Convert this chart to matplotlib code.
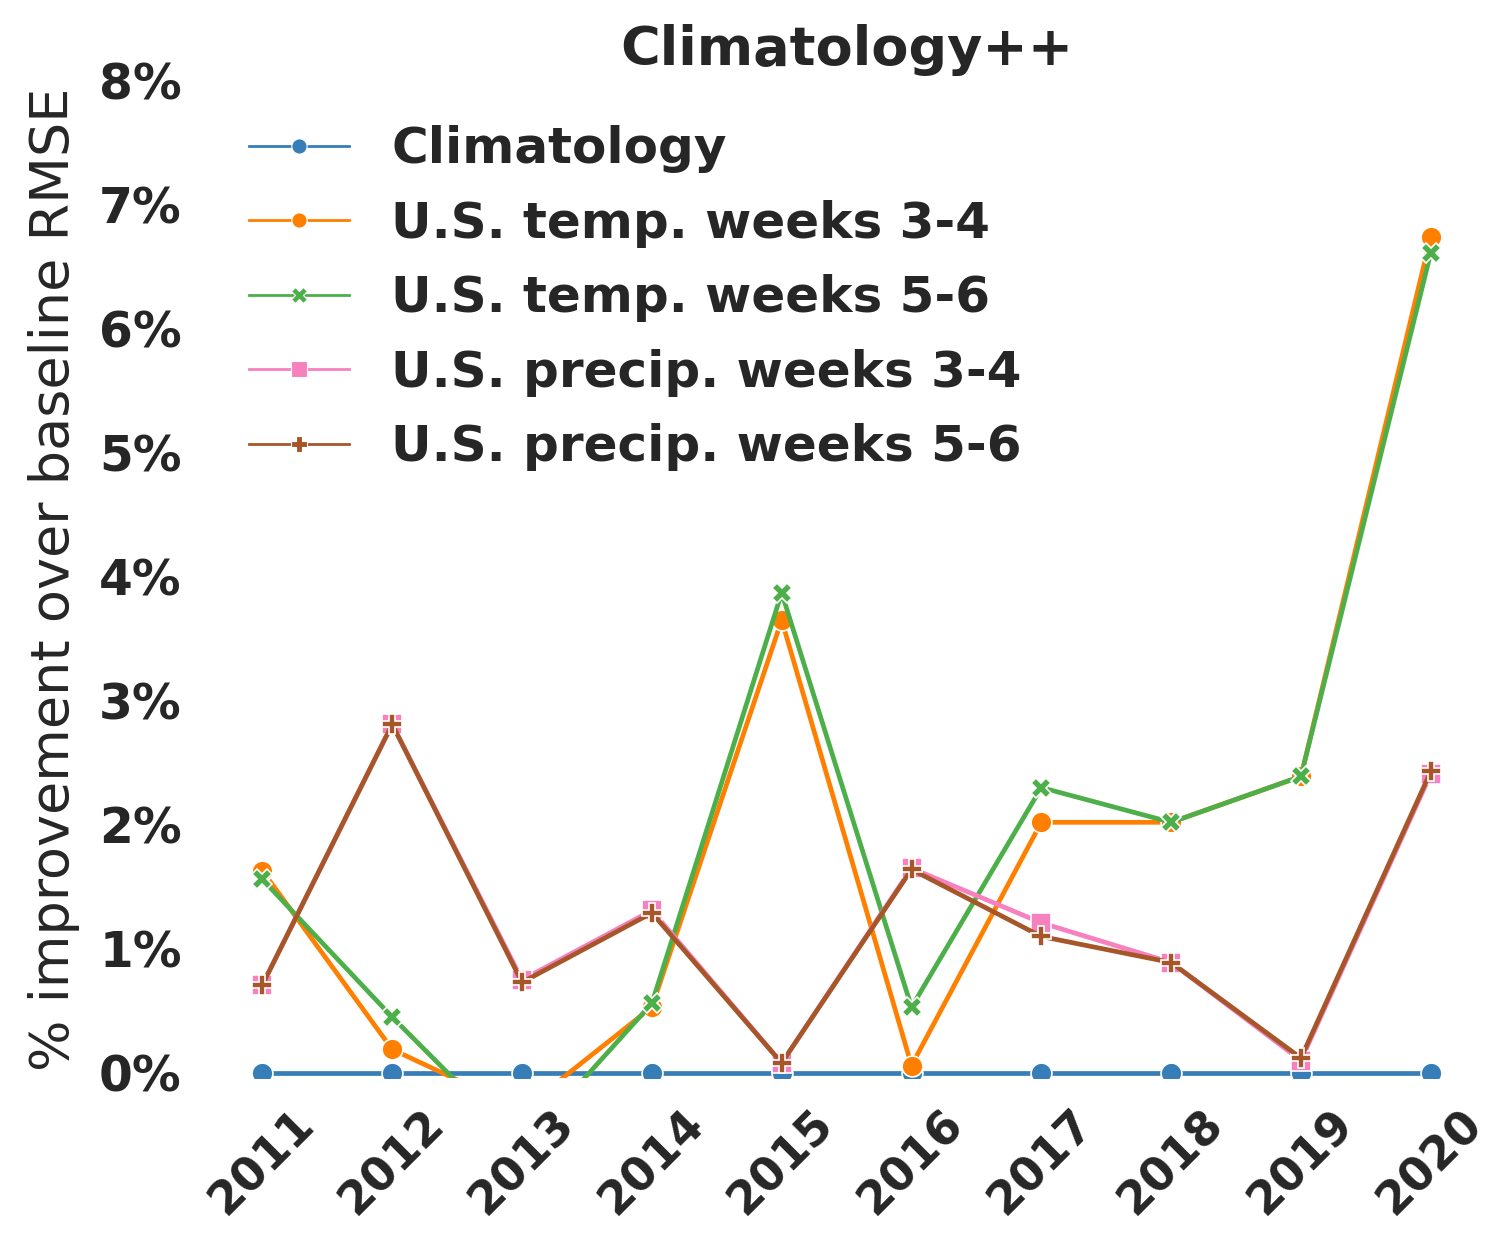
import numpy as np
import matplotlib.pyplot as plt
from matplotlib.lines import Line2D
from matplotlib.ticker import FuncFormatter

years = [2011, 2012, 2013, 2014, 2015, 2016, 2017, 2018, 2019, 2020]

climatology = [0, 0, 0, 0, 0, 0, 0, 0, 0, 0]
temp_34 = [1.63, 0.19, -0.30, 0.53, 3.65, 0.06, 2.02, 2.02, 2.39, 6.74]
temp_56 = [1.56, 0.45, -0.60, 0.56, 3.87, 0.53, 2.30, 2.02, 2.39, 6.61]
precip_34 = [0.71, 2.81, 0.75, 1.31, 0.08, 1.65, 1.21, 0.89, 0.10, 2.41]
precip_56 = [0.71, 2.81, 0.73, 1.29, 0.08, 1.64, 1.10, 0.89, 0.12, 2.43]

labels = ["Climatology", "U.S. temp. weeks 3-4", "U.S. temp. weeks 5-6",
          "U.S. precip. weeks 3-4", "U.S. precip. weeks 5-6"]
colors = ["#377eb8", "#ff7f00", "#4daf4a", "#f781bf", "#a65628"]
markers = ["o", "o", "X", "s", "P"]

txt = "#262626"

fig = plt.figure(figsize=(14.91, 12.37), dpi=100)
ax = fig.add_axes([0.1368, 0.1286, 0.862, 0.8065])

series = [climatology, temp_34, temp_56, precip_34, precip_56]
handles = []
for vals, lab, c, m in zip(series, labels, colors, markers):
    ax.plot(years, vals, color=c, marker=m, markersize=15, linewidth=3.4,
            markeredgecolor="white", markeredgewidth=1.2)
    handles.append(Line2D([], [], color=c, marker=m, markersize=11, linewidth=2.0,
                          markeredgecolor="white", markeredgewidth=0.8, label=lab))

ax.set_ylim(-0.04, 8)
ax.set_xticks(years)
ax.set_yticks(range(0, 9))
ax.yaxis.set_major_formatter(FuncFormatter(lambda v, p: "%d%%" % v))

for s in ax.spines.values():
    s.set_visible(False)
ax.tick_params(axis="both", length=0, colors=txt)
ax.tick_params(axis="y", labelsize=35, pad=16)
ax.tick_params(axis="x", labelsize=33, pad=17)
for t in ax.get_yticklabels():
    t.set_fontweight("bold")
for t in ax.get_xticklabels():
    t.set_fontweight("bold")
    t.set_rotation(45)

ax.set_ylabel("% improvement over baseline RMSE", fontsize=39, color=txt, labelpad=14)
ax.set_title("Climatology++", fontsize=39, fontweight="bold", color=txt, pad=11)

ax.legend(handles=handles, loc="upper left", frameon=False,
          prop={"weight": "bold", "size": 36}, labelspacing=0.53,
          handletextpad=0.85, labelcolor=txt)

fig.savefig("out.png", dpi=100)
